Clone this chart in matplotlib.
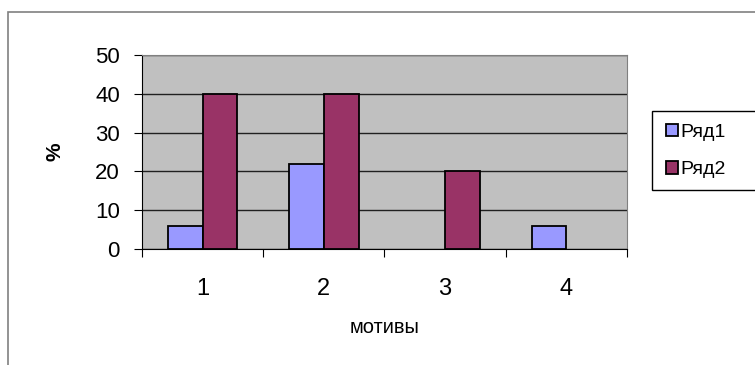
import matplotlib
matplotlib.use("Agg")
import matplotlib.pyplot as plt
from matplotlib.patches import Rectangle
import numpy as np

categories = ["1", "2", "3", "4"]
series1 = [6, 22, 0, 6]
series2 = [40, 40, 20, 0]
series_names = ["Ряд1", "Ряд2"]
y_ticks = [0, 10, 20, 30, 40, 50]

plt.rcParams["font.family"] = ["Liberation Sans", "DejaVu Sans"]

W, H = 755, 365
fig = plt.figure(figsize=(W / 100, H / 100), dpi=100)
fig.patch.set_facecolor("white")

# outer chart frame (only top and left edges fall inside the image)
fig.add_artist(Rectangle((8 / W, -0.1), 1.2, 1 - 12 / H + 0.1,
                         transform=fig.transFigure, fill=False,
                         edgecolor="#808080", linewidth=1.2))

left, right, top, bottom = 142, 627, 55, 249
ax = fig.add_axes([left / W, 1 - bottom / H,
                   (right - left) / W, (bottom - top) / H])
ax.set_facecolor("#C0C0C0")

x = np.arange(len(categories))
w = 1 / 3.5
lw1 = [1.3 if v else 0 for v in series1]
lw2 = [1.3 if v else 0 for v in series2]
b1 = ax.bar(x - w / 2, series1, width=w, color="#9999FF", edgecolor="black",
            linewidth=lw1, label=series_names[0], zorder=3)
b2 = ax.bar(x + w / 2, series2, width=w, color="#993366", edgecolor="black",
            linewidth=lw2, label=series_names[1], zorder=3)

ax.set_xlim(-0.5, len(categories) - 0.5)
ax.set_ylim(0, 50)
ax.set_yticks(y_ticks)
ax.set_yticklabels([str(t) for t in y_ticks], fontsize=16)
ax.yaxis.grid(True, color="#202020", linewidth=1.0, zorder=1)
ax.set_axisbelow(True)

# category boundary ticks on the x axis, labels centred between them
ax.set_xticks(np.arange(-0.5, len(categories), 1.0))
ax.set_xticklabels([])
ax.set_xticks(x, minor=True)
ax.set_xticklabels(categories, minor=True, fontsize=17)
ax.tick_params(axis="x", which="major", direction="out", length=6, color="black")
ax.tick_params(axis="x", which="minor", length=0, pad=21)
ax.tick_params(axis="y", direction="out", length=6, color="black", pad=10)

for side in ("top", "right"):
    ax.spines[side].set_color("#808080")
for side in ("left", "bottom"):
    ax.spines[side].set_color("black")

ax.set_xlabel("мотивы", fontsize=14.5)
ax.xaxis.set_label_coords(0.5, (bottom - 318) / (bottom - top))
ax.set_ylabel("%", fontsize=15, fontweight="bold")
ax.yaxis.set_label_coords((64 - left) / (right - left), 0.5)

# legend box runs past the right edge of the figure
leg_left, leg_top, leg_bottom = 652, 111, 190
fig.add_artist(Rectangle((leg_left / W, 1 - leg_bottom / H), 1.0,
                         (leg_bottom - leg_top) / H, transform=fig.transFigure,
                         facecolor="white", edgecolor="black", linewidth=1.0,
                         zorder=1))
leg = fig.legend(handles=[b1, b2], labels=series_names, loc="upper left",
                 bbox_to_anchor=((leg_left + 10) / W, 1 - (leg_top + 9) / H),
                 fontsize=14, frameon=False,
                 handlelength=0.6, handleheight=0.6, handletextpad=0.15,
                 labelspacing=1.05, borderpad=0.2, borderaxespad=0)
leg.set_zorder(2)

fig.savefig("out.png", dpi=100, facecolor="white")
